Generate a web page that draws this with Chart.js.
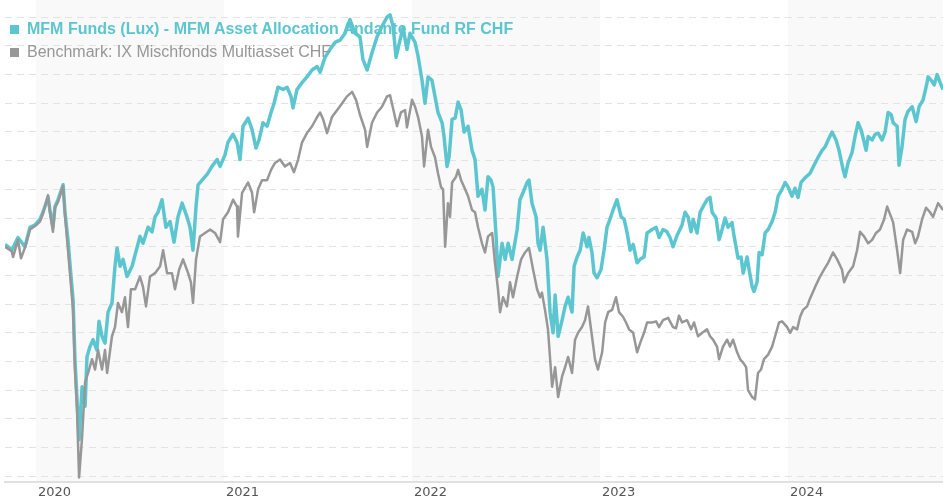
<!DOCTYPE html>
<html>
<head>
<meta charset="utf-8">
<script src="https://cdn.jsdelivr.net/npm/chart.js@4.4.1/dist/chart.umd.min.js"></script>
<style>
  body { margin: 0; background: #fff; }
  #wrap { position: relative; width: 943px; height: 500px; }
  .leg { position: absolute; left: 27px; font: 16px "Liberation Sans", Arial, sans-serif; line-height: 18px; white-space: nowrap; }
  .sq { position: absolute; left: 10px; width: 9px; height: 9px; }
</style>
</head>
<body>
<div id="wrap">
  <canvas id="chart" width="943" height="500"></canvas>
  <span class="sq" id="sq1" style="top:25px"></span>
  <div class="leg" id="leg1" style="top:20px;font-weight:bold"></div>
  <span class="sq" id="sq2" style="top:48px"></span>
  <div class="leg" id="leg2" style="top:43px"></div>
</div>
<script>
const fundName = 'MFM Funds (Lux) - MFM Asset Allocation Andante Fund RF CHF';
const benchName = 'Benchmark: IX Mischfonds Multiasset CHF';
const fundColor = '#5cc6d0';
const benchColor = '#979797';

const yearTicks = [2020, 2021, 2022, 2023, 2024];
const shadedYears = [2020, 2022, 2024];

// decimal years
const fundDates = [
  2019.835, 2019.844, 2019.871, 2019.904, 2019.941, 2019.968, 2019.995, 2020.021, 2020.037, 2020.064,
  2020.074, 2020.090, 2020.101, 2020.117, 2020.144, 2020.154, 2020.170, 2020.181, 2020.197, 2020.207,
  2020.218, 2020.229, 2020.245, 2020.261, 2020.271, 2020.287, 2020.303, 2020.324, 2020.335, 2020.351,
  2020.367, 2020.383, 2020.404, 2020.420, 2020.431, 2020.447, 2020.463, 2020.484, 2020.511, 2020.527,
  2020.553, 2020.569, 2020.596, 2020.617, 2020.633, 2020.649, 2020.670, 2020.691, 2020.713, 2020.734,
  2020.755, 2020.777, 2020.803, 2020.819, 2020.835, 2020.851, 2020.862, 2020.883, 2020.910, 2020.936,
  2020.963, 2020.979, 2021.005, 2021.021, 2021.048, 2021.069, 2021.085, 2021.101, 2021.128, 2021.149,
  2021.170, 2021.186, 2021.207, 2021.229, 2021.250, 2021.266, 2021.287, 2021.314, 2021.335, 2021.356,
  2021.367, 2021.388, 2021.415, 2021.441, 2021.468, 2021.495, 2021.511, 2021.537, 2021.564, 2021.590,
  2021.617, 2021.644, 2021.670, 2021.697, 2021.723, 2021.739, 2021.761, 2021.787, 2021.814, 2021.840,
  2021.867, 2021.883, 2021.899, 2021.915, 2021.936, 2021.952, 2021.973, 2021.989, 2022.016, 2022.032,
  2022.053, 2022.069, 2022.085, 2022.106, 2022.122, 2022.138, 2022.160, 2022.170, 2022.186, 2022.197,
  2022.213, 2022.229, 2022.245, 2022.261, 2022.277, 2022.298, 2022.319, 2022.335, 2022.351, 2022.372,
  2022.388, 2022.404, 2022.420, 2022.431, 2022.447, 2022.457, 2022.479, 2022.495, 2022.511, 2022.532,
  2022.559, 2022.574, 2022.590, 2022.612, 2022.622, 2022.638, 2022.660, 2022.670, 2022.681, 2022.697,
  2022.718, 2022.734, 2022.750, 2022.761, 2022.777, 2022.798, 2022.814, 2022.830, 2022.851, 2022.862,
  2022.878, 2022.894, 2022.910, 2022.931, 2022.941, 2022.957, 2022.968, 2022.984, 2023.005, 2023.021,
  2023.037, 2023.053, 2023.069, 2023.090, 2023.112, 2023.128, 2023.144, 2023.160, 2023.176, 2023.197,
  2023.213, 2023.234, 2023.250, 2023.277, 2023.298, 2023.314, 2023.335, 2023.356, 2023.372, 2023.388,
  2023.410, 2023.436, 2023.452, 2023.468, 2023.484, 2023.495, 2023.516, 2023.532, 2023.548, 2023.569,
  2023.585, 2023.596, 2023.617, 2023.633, 2023.649, 2023.665, 2023.681, 2023.702, 2023.713, 2023.734,
  2023.750, 2023.761, 2023.782, 2023.793, 2023.809, 2023.819, 2023.835, 2023.846, 2023.862, 2023.878,
  2023.894, 2023.915, 2023.931, 2023.947, 2023.968, 2023.984, 2024.000, 2024.021, 2024.037, 2024.053,
  2024.069, 2024.090, 2024.117, 2024.138, 2024.160, 2024.181, 2024.197, 2024.213, 2024.234, 2024.255,
  2024.271, 2024.293, 2024.303, 2024.319, 2024.340, 2024.356, 2024.372, 2024.388, 2024.399, 2024.415,
  2024.426, 2024.447, 2024.463, 2024.479, 2024.500, 2024.516, 2024.532, 2024.548, 2024.559, 2024.580,
  2024.590, 2024.606, 2024.622, 2024.638, 2024.660, 2024.681, 2024.697, 2024.718, 2024.734, 2024.745,
  2024.766, 2024.777, 2024.793, 2024.809, 2024.824
];
const fundValues = [
  100.2, 100.1, 99.7, 100.8, 100.0, 101.7, 101.9, 102.4, 103.0, 104.3,
  103.2, 101.7, 103.5, 104.1, 105.4, 103.0, 100.6, 98.4, 95.4, 90.2,
  86.7, 83.2, 87.8, 86.1, 90.4, 91.3, 91.9, 91.0, 93.5, 92.2,
  91.6, 94.3, 95.1, 98.3, 99.9, 98.3, 98.9, 97.4, 98.3, 99.3,
  100.9, 100.3, 101.7, 101.3, 102.6, 103.0, 104.1, 101.7, 102.2, 100.4,
  102.6, 103.8, 102.6, 101.7, 99.7, 103.5, 105.4, 105.8, 106.3, 107.0,
  107.6, 107.0, 108.0, 109.1, 109.8, 109.1, 107.6, 110.5, 111.2, 110.2,
  108.6, 109.3, 110.8, 110.5, 111.7, 112.5, 113.9, 113.7, 113.9, 113.1,
  112.1, 113.7, 114.3, 114.8, 115.4, 115.7, 115.2, 116.5, 117.2, 117.8,
  118.0, 118.6, 119.8, 118.6, 118.3, 116.3, 115.4, 116.9, 118.3, 119.2,
  120.0, 120.2, 119.2, 116.5, 118.0, 119.1, 117.2, 118.6, 117.8, 116.6,
  114.5, 112.5, 114.8, 114.5, 113.1, 111.7, 110.8, 109.6, 107.0, 107.8,
  111.1, 111.2, 112.6, 111.9, 110.0, 110.5, 108.4, 107.6, 104.4, 105.0,
  103.2, 106.1, 105.8, 105.2, 100.9, 97.4, 100.3, 98.9, 100.3, 98.9,
  101.5, 104.1, 104.7, 105.6, 105.8, 103.8, 102.6, 100.3, 99.7, 101.7,
  98.9, 94.3, 92.5, 95.8, 92.2, 93.6, 94.8, 95.6, 94.3, 98.3,
  99.1, 99.7, 101.2, 100.0, 100.8, 99.5, 97.7, 97.3, 98.0, 99.7,
  101.7, 102.4, 103.2, 104.1, 102.6, 102.4, 101.2, 99.7, 100.2, 98.6,
  98.9, 99.1, 101.2, 101.5, 101.7, 100.8, 101.5, 101.3, 100.8, 100.0,
  101.0, 101.9, 103.0, 102.6, 101.3, 102.4, 101.2, 103.0, 103.5, 104.1,
  104.3, 103.0, 102.5, 100.6, 101.5, 102.5, 101.7, 102.1, 100.9, 99.0,
  99.1, 97.7, 99.1, 98.0, 96.5, 96.1, 96.9, 99.5, 99.3, 101.2,
  101.5, 102.2, 103.0, 104.4, 105.0, 105.6, 105.2, 104.4, 105.1, 104.3,
  105.6, 106.0, 106.4, 107.1, 107.8, 108.4, 108.7, 109.3, 110.0, 109.3,
  108.4, 106.7, 106.1, 107.3, 108.2, 109.6, 110.8, 110.2, 109.5, 108.4,
  109.6, 109.3, 109.8, 109.9, 109.3, 110.0, 111.7, 111.5, 110.8, 110.5,
  107.1, 108.7, 111.1, 111.8, 112.2, 110.9, 112.2, 112.8, 113.9, 114.8,
  114.4, 114.1, 115.0, 114.3, 113.7
];

const benchDates = [
  2019.835, 2019.844, 2019.871, 2019.878, 2019.904, 2019.920, 2019.941, 2019.968, 2019.995, 2020.021,
  2020.037, 2020.064, 2020.074, 2020.090, 2020.101, 2020.117, 2020.144, 2020.154, 2020.170, 2020.181,
  2020.197, 2020.207, 2020.218, 2020.229, 2020.245, 2020.261, 2020.277, 2020.298, 2020.314, 2020.330,
  2020.351, 2020.367, 2020.378, 2020.404, 2020.420, 2020.436, 2020.457, 2020.473, 2020.489, 2020.505,
  2020.527, 2020.553, 2020.569, 2020.585, 2020.606, 2020.633, 2020.660, 2020.676, 2020.697, 2020.723,
  2020.739, 2020.761, 2020.782, 2020.809, 2020.824, 2020.835, 2020.851, 2020.872, 2020.899, 2020.926,
  2020.952, 2020.979, 2020.995, 2021.021, 2021.048, 2021.069, 2021.074, 2021.096, 2021.128, 2021.149,
  2021.160, 2021.181, 2021.202, 2021.229, 2021.250, 2021.271, 2021.298, 2021.324, 2021.351, 2021.372,
  2021.394, 2021.415, 2021.441, 2021.468, 2021.495, 2021.511, 2021.527, 2021.548, 2021.574, 2021.601,
  2021.628, 2021.654, 2021.681, 2021.702, 2021.723, 2021.750, 2021.761, 2021.787, 2021.814, 2021.840,
  2021.867, 2021.883, 2021.904, 2021.920, 2021.941, 2021.963, 2021.973, 2022.000, 2022.016, 2022.032,
  2022.053, 2022.064, 2022.085, 2022.101, 2022.122, 2022.138, 2022.154, 2022.165, 2022.176, 2022.191,
  2022.202, 2022.213, 2022.234, 2022.245, 2022.261, 2022.277, 2022.298, 2022.319, 2022.335, 2022.351,
  2022.372, 2022.388, 2022.404, 2022.426, 2022.441, 2022.457, 2022.468, 2022.484, 2022.505, 2022.521,
  2022.537, 2022.559, 2022.580, 2022.601, 2022.622, 2022.644, 2022.665, 2022.681, 2022.691, 2022.707,
  2022.723, 2022.745, 2022.761, 2022.777, 2022.798, 2022.814, 2022.830, 2022.851, 2022.867, 2022.883,
  2022.904, 2022.920, 2022.936, 2022.957, 2022.973, 2022.989, 2023.011, 2023.027, 2023.043, 2023.064,
  2023.085, 2023.101, 2023.122, 2023.138, 2023.154, 2023.176, 2023.197, 2023.213, 2023.234, 2023.250,
  2023.277, 2023.298, 2023.314, 2023.335, 2023.362, 2023.388, 2023.404, 2023.420, 2023.436, 2023.463,
  2023.484, 2023.500, 2023.521, 2023.543, 2023.569, 2023.585, 2023.601, 2023.622, 2023.633, 2023.654,
  2023.676, 2023.691, 2023.707, 2023.729, 2023.745, 2023.761, 2023.777, 2023.787, 2023.809, 2023.824,
  2023.840, 2023.856, 2023.872, 2023.894, 2023.915, 2023.931, 2023.952, 2023.968, 2023.995, 2024.011,
  2024.027, 2024.048, 2024.064, 2024.080, 2024.101, 2024.117, 2024.144, 2024.170, 2024.191, 2024.213,
  2024.239, 2024.261, 2024.287, 2024.298, 2024.319, 2024.346, 2024.367, 2024.383, 2024.404, 2024.426,
  2024.447, 2024.468, 2024.489, 2024.511, 2024.527, 2024.548, 2024.559, 2024.580, 2024.596, 2024.612,
  2024.633, 2024.660, 2024.676, 2024.691, 2024.713, 2024.734, 2024.755, 2024.771, 2024.798, 2024.824
];
const benchValues = [
  100.0, 99.9, 99.6, 99.1, 100.6, 99.0, 99.9, 101.5, 101.8, 102.2,
  102.9, 104.5, 103.0, 101.3, 103.4, 103.9, 105.3, 102.8, 99.7, 97.6,
  94.5, 89.3, 85.8, 79.9, 83.4, 88.2, 89.0, 90.2, 89.3, 91.0,
  89.3, 91.0, 89.0, 92.2, 93.0, 95.1, 94.3, 95.6, 93.0, 96.3,
  96.3, 97.4, 96.5, 94.8, 97.4, 97.7, 98.3, 99.7, 97.7, 97.7,
  96.3, 98.0, 98.9, 97.7, 96.9, 95.1, 98.9, 100.9, 101.2, 101.5,
  101.2, 100.4, 102.4, 103.0, 104.1, 103.5, 100.9, 104.7, 105.6, 104.7,
  103.0, 105.0, 105.8, 105.8, 106.7, 107.3, 107.6, 107.0, 107.3, 106.5,
  107.6, 109.1, 109.9, 110.5, 111.3, 111.7, 111.1, 109.9, 111.3, 111.9,
  112.5, 113.1, 113.5, 112.8, 111.5, 110.2, 108.7, 110.8, 111.7, 112.2,
  113.1, 113.2, 111.7, 110.5, 111.7, 111.9, 110.4, 112.8, 112.2, 111.3,
  109.6, 107.0, 110.2, 108.7, 107.8, 106.4, 105.2, 105.0, 100.0, 103.8,
  102.6, 105.6, 106.1, 106.7, 105.8, 105.2, 104.4, 103.2, 103.0, 101.7,
  100.3, 99.5, 100.9, 101.2, 98.6, 96.3, 94.3, 95.6, 94.8, 96.9,
  95.6, 97.4, 98.9, 99.5, 99.9, 98.0, 96.3, 95.6, 96.0, 94.5,
  92.8, 87.8, 89.5, 86.9, 88.7, 89.5, 90.4, 89.0, 91.9, 92.5,
  93.0, 93.6, 94.8, 92.2, 90.2, 89.3, 90.8, 93.4, 94.3, 94.5,
  95.6, 94.3, 93.9, 93.4, 92.8, 92.5, 90.8, 91.6, 92.5, 93.4,
  93.4, 93.5, 93.0, 93.6, 93.8, 93.0, 92.9, 94.0, 93.4, 93.6,
  92.8, 93.4, 92.2, 92.5, 92.8, 92.2, 91.9, 91.3, 90.2, 91.3,
  91.9, 91.3, 91.9, 90.8, 90.2, 89.9, 89.5, 87.5, 86.9, 86.7,
  89.0, 89.3, 90.2, 90.6, 91.3, 92.2, 93.4, 93.5, 93.0, 92.5,
  93.0, 92.8, 93.9, 94.5, 94.8, 95.5, 96.5, 97.4, 98.0, 98.6,
  99.5, 98.9, 98.0, 96.9, 97.7, 98.3, 99.7, 101.3, 100.9, 100.3,
  100.6, 101.2, 101.5, 102.4, 103.5, 102.6, 102.1, 99.7, 97.7, 100.6,
  101.5, 101.3, 100.3, 100.9, 102.4, 103.4, 103.0, 102.6, 103.8, 103.2
];

const yMin = 79.5, yMax = 121.5, yStep = 2.5;

document.getElementById('leg1').textContent = fundName;
document.getElementById('leg1').style.color = fundColor;
document.getElementById('sq1').style.background = fundColor;
document.getElementById('leg2').textContent = benchName;
document.getElementById('leg2').style.color = benchColor;
document.getElementById('sq2').style.background = benchColor;

const toPoints = (xs, ys) => xs.map((x, i) => ({ x, y: ys[i] }));

// white page + alternating year bands
const bands = {
  id: 'bands',
  beforeDraw(chart) {
    const { ctx, chartArea: a, scales: { x } } = chart;
    ctx.save();
    ctx.fillStyle = '#fff';
    ctx.fillRect(0, 0, chart.width, chart.height);
    ctx.fillStyle = '#f9f9f9';
    shadedYears.forEach(yr => {
      const l = Math.max(x.getPixelForValue(yr), a.left);
      const r = Math.min(x.getPixelForValue(yr + 1), a.right);
      if (r > l) ctx.fillRect(l, a.top, r - l, a.bottom - a.top);
    });
    ctx.restore();
  }
};

new Chart(document.getElementById('chart').getContext('2d'), {
  type: 'line',
  data: {
    datasets: [
      { label: fundName, data: toPoints(fundDates, fundValues), borderColor: fundColor, borderWidth: 3.5, order: 1 },
      { label: benchName, data: toPoints(benchDates, benchValues), borderColor: benchColor, borderWidth: 2.5, order: 0 }
    ]
  },
  options: {
    responsive: false,
    animation: false,
    devicePixelRatio: 1,
    layout: { padding: { left: 5, right: 0, top: 0, bottom: 0 } },
    elements: {
      point: { radius: 0 },
      line: { tension: 0, borderJoinStyle: 'round', fill: false }
    },
    plugins: { legend: { display: false }, tooltip: { enabled: false } },
    scales: {
      x: {
        type: 'linear',
        min: fundDates[0],
        max: fundDates[fundDates.length - 1],
        grid: { display: false, drawTicks: false },
        border: { display: true, color: '#e0e0e0', width: 2 },
        afterBuildTicks: s => { s.ticks = yearTicks.map(v => ({ value: v })); },
        afterFit: s => { s.height = 18; },
        ticks: {
          autoSkip: false,
          maxRotation: 0,
          align: 'start',
          labelOffset: 2,
          padding: 3,
          color: '#555',
          font: { family: 'DejaVu Sans', size: 13 },
          callback: v => String(v)
        }
      },
      y: {
        min: yMin,
        max: yMax,
        afterBuildTicks: s => {
          const t = [];
          for (let v = 80; v <= 120; v += yStep) t.push({ value: v });
          s.ticks = t;
        },
        afterFit: s => { s.width = 0; },
        ticks: { display: false },
        border: { display: false, dash: [7, 5] },
        grid: { color: '#e3e3e3', lineWidth: 1, drawTicks: false }
      }
    }
  },
  plugins: [bands]
});
</script>
</body>
</html>
